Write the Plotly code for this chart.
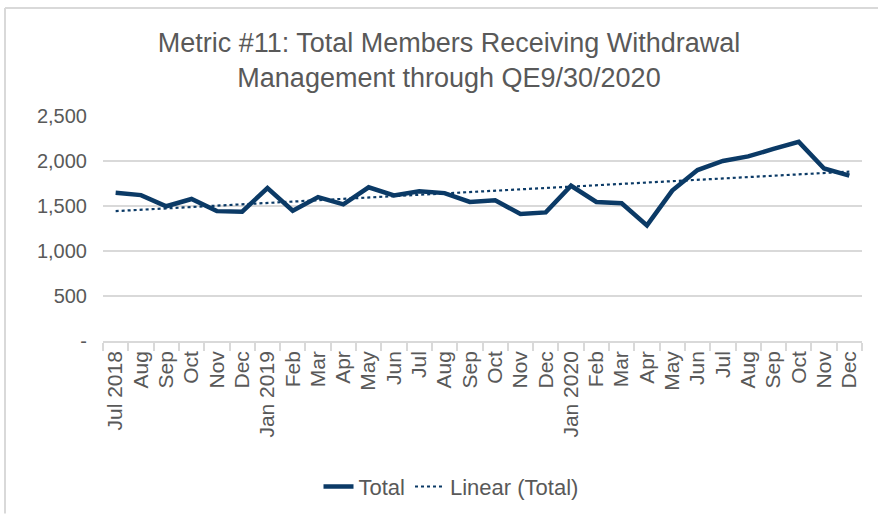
import numpy as np
import plotly.graph_objects as go

months = ["Jul 2018", "Aug", "Sep", "Oct", "Nov", "Dec", "Jan 2019", "Feb", "Mar", "Apr",
          "May", "Jun", "Jul", "Aug", "Sep", "Oct", "Nov", "Dec", "Jan 2020", "Feb",
          "Mar", "Apr", "May", "Jun", "Jul", "Aug", "Sep", "Oct", "Nov", "Dec"]
total = [1646, 1621, 1497, 1578, 1443, 1436, 1700, 1447, 1599, 1519,
         1708, 1617, 1664, 1643, 1545, 1563, 1411, 1429, 1725, 1545,
         1530, 1285, 1671, 1899, 2000, 2051, 2134, 2213, 1917, 1838]
y_ticks = [0, 500, 1000, 1500, 2000, 2500]
y_tick_text = ["-", "500", "1,000", "1,500", "2,000", "2,500"]

# category keys unique (month names repeat)
xkeys = [f"{i}" for i in range(len(months))]

# Linear trendline (least squares, as in the spreadsheet trendline)
idx = np.arange(1, len(total) + 1)
slope, intercept = np.polyfit(idx, total, 1)
trend = (slope * idx + intercept).tolist()

W, H = 878, 519
ml, mr, mt, mb = 103, 16, 116, 172
pw, ph = W - ml - mr, H - mt - mb

def px_x(x):
    return (x - ml) / pw

def px_y(y):
    return (H - mb - y) / ph

navy = "#0b3a66"
gray_text = "#595959"
grid = "#d9d9d9"

fig = go.Figure()
fig.add_trace(go.Scatter(x=xkeys, y=total, mode="lines", name="Total",
                         line=dict(color=navy, width=4.5)))
fig.add_trace(go.Scatter(x=xkeys, y=trend, mode="lines", name="Linear (Total)",
                         line=dict(color=navy, width=2.2, dash="dot")))

fig.update_layout(
    width=W, height=H,
    margin=dict(l=ml, r=mr, t=mt, b=mb, pad=0),
    paper_bgcolor="white", plot_bgcolor="white",
    font=dict(family="Liberation Sans, Arial, sans-serif", color=gray_text),
    title=dict(text="Metric #11: Total Members Receiving Withdrawal<br>Management through QE9/30/2020",
               x=px_x(449), xanchor="center", xref="paper", y=1 - 52 / H, yanchor="top",
               font=dict(size=27, color=gray_text)),
    showlegend=True,
    legend=dict(orientation="h", x=px_x(451), xanchor="center", xref="paper",
                y=px_y(475), yanchor="top", font=dict(size=22, color=gray_text),
                tracegroupgap=0),
    xaxis=dict(type="category", tickmode="array", tickvals=xkeys, ticktext=months,
               tickangle=-90, tickfont=dict(size=21, color=gray_text),
               ticks="outside", ticklen=8, tickcolor=grid, tickwidth=1.5,
               tickson="boundaries", showline=True, linecolor=grid, linewidth=1.5,
               showgrid=False, zeroline=False, range=[-0.5, len(months) - 0.5]),
    yaxis=dict(range=[0, 2500], tickmode="array", tickvals=y_ticks, ticktext=y_tick_text,
               tickfont=dict(size=20, color=gray_text), showgrid=True, gridcolor=grid,
               gridwidth=1.5, zeroline=False, showline=False, ticks="", ticklabelstandoff=15),
    shapes=[
        dict(type="line", xref="paper", yref="paper", x0=px_x(5), x1=px_x(W + 5),
             y0=px_y(5), y1=px_y(5), line=dict(color=grid, width=2)),
        dict(type="line", xref="paper", yref="paper", x0=px_x(5), x1=px_x(5),
             y0=px_y(5), y1=px_y(H + 5), line=dict(color=grid, width=2)),
    ],
)

fig.write_html("out.html", config={"displayModeBar": False},
               post_script="document.body.style.margin='0px';")
